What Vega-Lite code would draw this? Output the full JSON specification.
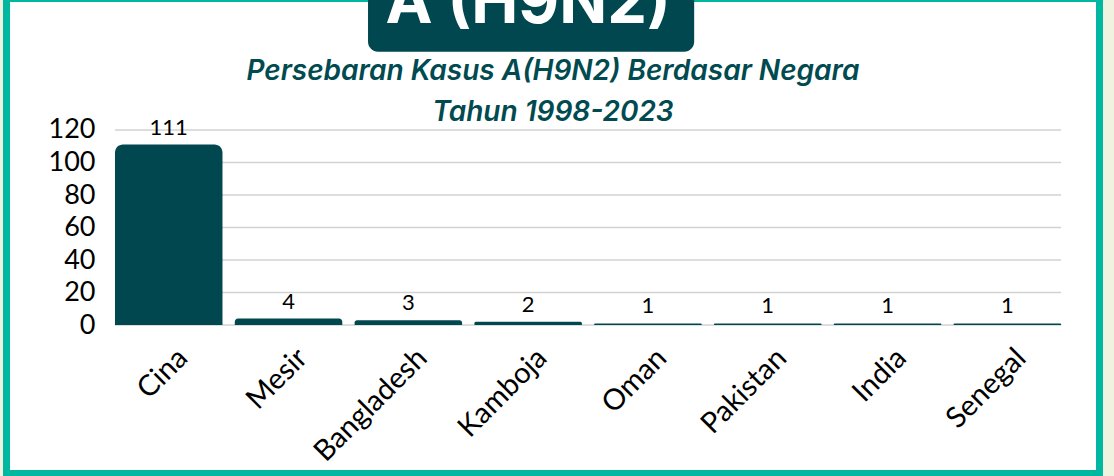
{
  "$schema": "https://vega.github.io/schema/vega-lite/v6.json",
  "autosize": {"type": "none"},
  "width": 1093,
  "height": 475,
  "padding": {"left": 6.5, "top": -1.5, "right": 14.5, "bottom": 2.5},
  "background": "#f1f3e1",
  "config": {"view": {"fill": "white", "stroke": "#00B8A0", "strokeWidth": 7}},
  "datasets": {
    "cases": [
      {"negara": "Cina", "kasus": 111},
      {"negara": "Mesir", "kasus": 4},
      {"negara": "Bangladesh", "kasus": 3},
      {"negara": "Kamboja", "kasus": 2},
      {"negara": "Oman", "kasus": 1},
      {"negara": "Pakistan", "kasus": 1},
      {"negara": "India", "kasus": 1},
      {"negara": "Senegal", "kasus": 1}
    ],
    "grid": [{"v": 0}, {"v": 20}, {"v": 40}, {"v": 60}, {"v": 80}, {"v": 100}, {"v": 120}]
  },
  "layer": [
    {
      "data": {"name": "grid"},
      "mark": {"type": "rule", "color": "#d2d2d2", "strokeWidth": 1.5},
      "encoding": {
        "y": {
          "field": "v",
          "type": "quantitative",
          "scale": {"domain": [-91.38, 200.92], "nice": false, "zero": false},
          "axis": {
            "orient": "left",
            "offset": -88.5,
            "title": null,
            "domain": false,
            "ticks": false,
            "grid": false,
            "values": [0, 20, 40, 60, 80, 100, 120],
            "labelPadding": 0,
            "labelFont": "Lato",
            "labelFontSize": 27,
            "labelColor": "#000000"
          }
        },
        "x": {"datum": "Cina", "type": "nominal", "bandPosition": 0},
        "x2": {"datum": "Senegal", "bandPosition": 1}
      }
    },
    {
      "data": {"name": "cases"},
      "mark": {"type": "bar", "color": "#00474F", "cornerRadiusTopLeft": 8, "cornerRadiusTopRight": 8},
      "encoding": {
        "x": {
          "field": "negara",
          "type": "nominal",
          "sort": null,
          "scale": {
            "domain": ["Cina", "Mesir", "Bangladesh", "Kamboja", "Oman", "Pakistan", "India", "Senegal"],
            "paddingInner": 0.1027,
            "paddingOuter": 0.613,
            "align": 0.7386
          },
          "axis": {
            "orient": "bottom",
            "offset": -148.5,
            "title": null,
            "domain": false,
            "ticks": false,
            "grid": false,
            "labelAngle": -45,
            "labelAlign": "right",
            "labelBaseline": "middle",
            "labelPadding": 28,
            "labelOffset": 14,
            "labelFont": "Lato",
            "labelFontSize": 29,
            "labelColor": "#000000"
          }
        },
        "y": {"field": "kasus", "type": "quantitative"},
        "y2": {"datum": 0}
      }
    },
    {
      "data": {"name": "cases"},
      "mark": {"type": "text", "font": "Lato", "fontSize": 22, "color": "#000000", "baseline": "alphabetic", "dy": -10},
      "encoding": {
        "x": {"field": "negara", "type": "nominal", "sort": null},
        "y": {"field": "kasus", "type": "quantitative"},
        "text": {"field": "kasus", "type": "quantitative"}
      }
    },
    {
      "data": {"values": [{}]},
      "mark": {"type": "rect", "color": "#00474F", "cornerRadius": 10},
      "encoding": {
        "x": {"datum": "Bangladesh", "type": "nominal", "bandPosition": 0.125},
        "x2": {"datum": "Oman", "bandPosition": 0.93},
        "y": {"datum": 230, "type": "quantitative"},
        "y2": {"datum": 168.2}
      }
    },
    {
      "data": {"values": [{}]},
      "mark": {"type": "text", "font": "Inter", "fontWeight": "bold", "fontSize": 63, "color": "#ffffff", "baseline": "alphabetic", "align": "center"},
      "encoding": {
        "x": {"datum": "Kamboja", "type": "nominal", "bandPosition": 0.5},
        "y": {"datum": 185.8, "type": "quantitative"},
        "text": {"value": "A (H9N2)"}
      }
    },
    {
      "data": {"values": [{}]},
      "mark": {"type": "text", "font": "Inter", "fontWeight": 600, "fontStyle": "italic", "fontSize": 28, "color": "#004A50", "baseline": "alphabetic", "align": "center"},
      "encoding": {
        "x": {"value": {"expr": "width/2"}},
        "y": {"datum": 150.75, "type": "quantitative"},
        "text": {"value": "Persebaran Kasus A(H9N2) Berdasar Negara"}
      }
    },
    {
      "data": {"values": [{}]},
      "mark": {"type": "text", "font": "Inter", "fontWeight": 600, "fontStyle": "italic", "fontSize": 28, "color": "#004A50", "baseline": "alphabetic", "align": "center"},
      "encoding": {
        "x": {"value": {"expr": "width/2"}},
        "y": {"datum": 125.8, "type": "quantitative"},
        "text": {"value": "Tahun 1998-2023"}
      }
    }
  ]
}
